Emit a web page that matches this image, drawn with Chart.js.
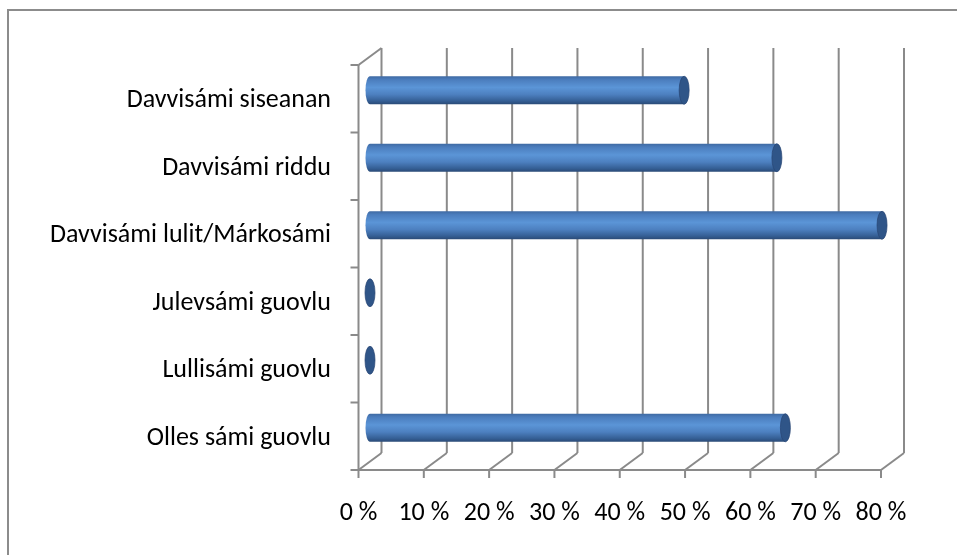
<!DOCTYPE html>
<html>
<head>
<meta charset="utf-8">
<script src="https://cdn.jsdelivr.net/npm/chart.js@4.4.1/dist/chart.umd.min.js"></script>
<style>
  html, body { margin: 0; padding: 0; background: #ffffff; }
  #wrap { width: 957px; height: 555px; position: relative; }
</style>
</head>
<body>
<div id="wrap"><canvas id="c" width="957" height="555"></canvas></div>
<script>
// ---- data ----
const categories = [
  'Davvisámi siseanan',
  'Davvisámi riddu',
  'Davvisámi lulit/Márkosámi',
  'Julevsámi guovlu',
  'Lullisámi guovlu',
  'Olles sámi guovlu'
];
const shareValues = [48.1, 62.3, 78.4, 0, 0, 63.6];
const xTickValues = [0, 10, 20, 30, 40, 50, 60, 70, 80];
const xTickLabels = ['0 %', '10 %', '20 %', '30 %', '40 %', '50 %', '60 %', '70 %', '80 %'];

// ---- styling constants ----
const FONT = 'Carlito, Calibri, Lato, "Open Sans", sans-serif';
const GRID = '#8a8a8a';
const FX = -11.5, FY = 8.5;   // front plane offset from bar plane
const BX = 11.5,  BY = -8.5;  // back plane offset from bar plane
const CAP_RX = 4.5;

function barGradient(ctx, yc, h) {
  const g = ctx.createLinearGradient(0, yc - h / 2, 0, yc + h / 2);
  g.addColorStop(0.0, '#3f6aa3');
  g.addColorStop(0.12, '#4b7dbd');
  g.addColorStop(0.40, '#5b95d7');
  g.addColorStop(0.65, '#4d80c0');
  g.addColorStop(0.88, '#355f95');
  g.addColorStop(1.0, '#2a4a76');
  return g;
}

const frame3d = {
  id: 'frame3d',
  beforeDraw(chart) {
    const ctx = chart.ctx;
    ctx.save();
    ctx.strokeStyle = '#8c8c8c';
    ctx.lineWidth = 2;
    ctx.beginPath();
    ctx.moveTo(8, 560);
    ctx.lineTo(8, 10);
    ctx.lineTo(960, 10);
    ctx.stroke();
    ctx.restore();
  },
  beforeDatasetsDraw(chart) {
    const { ctx, chartArea: a, scales: { x, y } } = chart;
    ctx.save();
    ctx.strokeStyle = GRID;
    ctx.lineWidth = 2;
    ctx.lineCap = 'butt';
    const line = (x1, y1, x2, y2) => {
      ctx.beginPath(); ctx.moveTo(x1, y1); ctx.lineTo(x2, y2); ctx.stroke();
    };
    const x0 = x.getPixelForValue(xTickValues[0]);
    const xN = x.getPixelForValue(xTickValues[xTickValues.length - 1]);
    xTickValues.forEach(v => {
      const px = x.getPixelForValue(v);
      line(px + BX, a.top + BY, px + BX, a.bottom + BY);
      line(px + FX, a.bottom + FY, px + BX, a.bottom + BY);
      line(px + FX, a.bottom + FY, px + FX, a.bottom + FY + 8);
    });
    line(x0 + FX - 1, a.bottom + FY, xN + FX + 1, a.bottom + FY);
    line(x0 + FX, a.top + FY, x0 + FX, a.bottom + FY);
    line(x0 + FX, a.top + FY, x0 + BX, a.top + BY);
    for (let i = 0; i <= categories.length; i++) {
      const yb = y.getPixelForValue(i - 0.5);
      line(x0 + FX - 8, yb + FY, x0 + FX, yb + FY);
    }
    ctx.restore();
  },
  afterDatasetsDraw(chart) {
    const ctx = chart.ctx;
    const meta = chart.getDatasetMeta(0);
    ctx.save();
    meta.data.forEach((el, i) => {
      const p = el.getProps(['x', 'y', 'base', 'height'], true);
      const h = p.height;
      const v = shareValues[i];
      if (v > 0) {
        ctx.beginPath();
        ctx.ellipse(p.base, p.y, CAP_RX, h / 2, 0, Math.PI / 2, Math.PI * 1.5);
        ctx.closePath();
        ctx.fillStyle = barGradient(ctx, p.y, h);
        ctx.fill();
      }
      ctx.beginPath();
      ctx.ellipse(p.x, p.y, CAP_RX + 0.5, h / 2, 0, 0, Math.PI * 2);
      ctx.fillStyle = '#2f5588';
      ctx.fill();
      ctx.strokeStyle = 'rgba(40,70,115,0.9)';
      ctx.lineWidth = 0.8;
      ctx.stroke();
    });
    ctx.restore();
  }
};

new Chart(document.getElementById('c'), {
  type: 'bar',
  data: {
    labels: categories,
    datasets: [{
      data: shareValues,
      backgroundColor: (context) => {
        const chart = context.chart;
        if (!chart.chartArea || !chart.scales.y) return '#4f81bd';
        const yc = chart.scales.y.getPixelForValue(context.dataIndex);
        return barGradient(chart.ctx, yc, 28);
      },
      borderWidth: 0,
      categoryPercentage: 1.0,
      barPercentage: 0.415
    }]
  },
  options: {
    indexAxis: 'y',
    responsive: false,
    animation: false,
    devicePixelRatio: 1,
    layout: { padding: { left: 0, right: 64.5, top: 56.5, bottom: 0 } },
    plugins: { legend: { display: false }, tooltip: { enabled: false } },
    scales: {
      x: {
        type: 'linear',
        min: 0,
        max: 80,
        afterBuildTicks: (scale) => { scale.ticks = xTickValues.map(v => ({ value: v })); },
        afterFit: (scale) => { scale.height = 93.5; },
        grid: { display: false, drawTicks: false },
        border: { display: false },
        ticks: {
          callback: (v, i) => xTickLabels[i],
          font: { family: FONT, size: 26 },
          color: '#000000',
          padding: 36,
          labelOffset: FX,
          maxRotation: 0,
          autoSkip: false
        }
      },
      y: {
        afterFit: (scale) => { scale.width = 370; },
        grid: { display: false, drawTicks: false },
        border: { display: false },
        ticks: {
          font: { family: FONT, size: 26 },
          color: '#000000',
          padding: 39,
          labelOffset: 10.5,
          autoSkip: false
        }
      }
    }
  },
  plugins: [frame3d]
});
</script>
</body>
</html>
